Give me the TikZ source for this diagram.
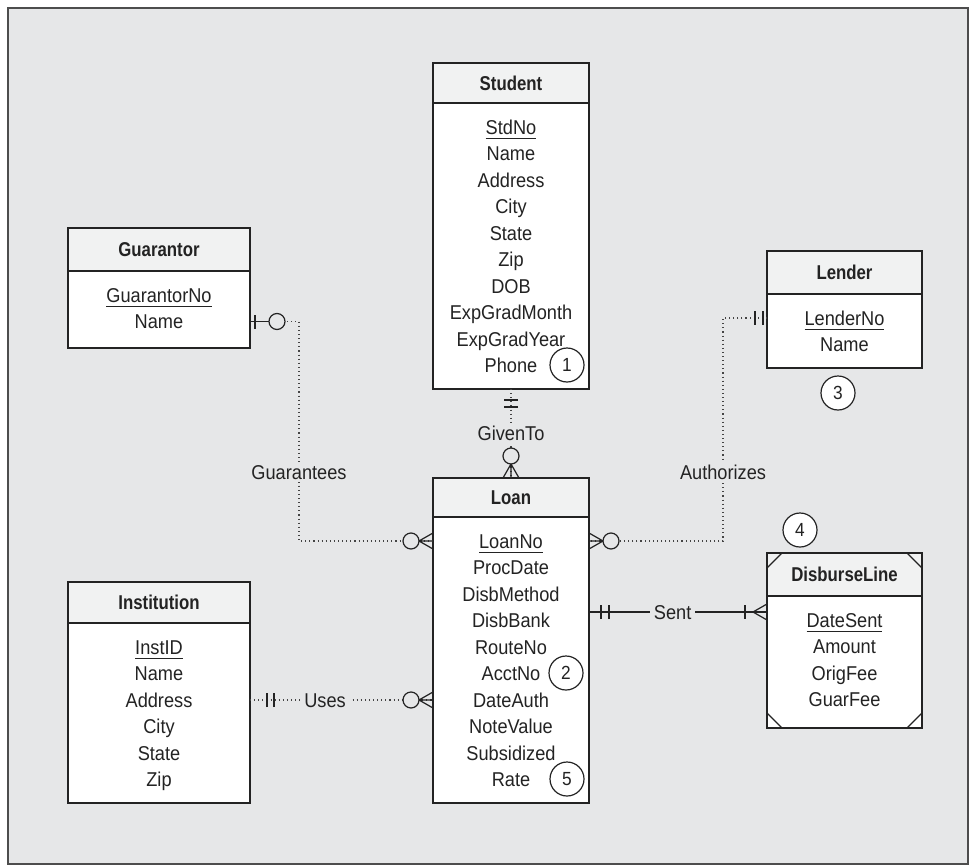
\documentclass[tikz,border=0pt]{standalone}
\usepackage{fontspec}
\setmainfont{Liberation Sans}[FakeStretch=0.91]
\newfontfamily\headfont{Liberation Sans Bold}[FakeStretch=0.84]
\usetikzlibrary{calc}

\definecolor{pagebg}{HTML}{E6E7E8}
\definecolor{headfill}{HTML}{F1F2F2}
\definecolor{ink}{HTML}{232323}
\definecolor{frameline}{HTML}{4D4D4D}
\definecolor{dotink}{HTML}{444444}

% primary key: text with a rule under it
\newcommand\pk[1]{\setbox0\hbox{#1}\rlap{\color{ink}\rule[-4.6pt]{\wd0}{1.1pt}}\box0}

\tikzset{
  x=1pt, y=-1pt,
  txt/.style={font=\fontsize{20}{24}\selectfont, text=ink, inner sep=0pt,
              text height=14.3pt, text depth=0pt},
  boxline/.style={draw=ink, line width=1.4pt, inner sep=0pt, outer sep=0pt},
  headbox/.style={boxline, fill=headfill},
  bodybox/.style={boxline, fill=white},
  enttitle/.style={txt, font=\headfont\fontsize{20}{24}\selectfont},
  attrtext/.style={txt},
  reldots/.style={draw=dotink, line width=1.1pt, dash pattern=on 1.1pt off 3pt},
  solidln/.style={draw=ink, line width=1.2pt},
  relname/.style={txt, fill=pagebg, inner xsep=4pt, inner ysep=3pt},
  numball/.style={circle, draw=ink, line width=1.2pt, fill=white, minimum size=34pt,
                  inner sep=0pt, font=\fontsize{19}{22}\selectfont, text=ink}
}

% entity: name, left, right, top, header bottom, bottom, title, attribute rows
\newcommand\erentity[8]{%
  \node[bodybox, anchor=north west, minimum width={#3-#2}, minimum height={#6-#5}] (#1) at (#2,#5) {};
  \node[headbox, anchor=north west, minimum width={#3-#2}, minimum height={#5-#4}] (#1-head) at (#2,#4) {};
  \node[enttitle] (#1-title) at (#1-head.center) {#7};
  \foreach \t [count=\i] in {#8}
    \node[attrtext] (#1-\i) at ({(#2+#3)/2},{#5+24+(\i-1)*26.5}) {\t};
}

% crow's foot at point #1, pointing away from the entity along (#2,#3)
\newcommand\crowfoot[3]{%
  \draw[solidln] ($(#1)+14*(#2,#3)$) -- ($(#1)+8*(#3,#2)$)
                 ($(#1)+14*(#2,#3)$) -- ($(#1)-8*(#3,#2)$)
                 ($(#1)+14*(#2,#3)$) -- (#1);
}
% zero-or-many: crow's foot plus ring
\newcommand\zeromany[3]{%
  \crowfoot{#1}{#2}{#3}%
  \draw[solidln, fill=pagebg] ($(#1)+22*(#2,#3)$) circle[radius=8];
}
% bar across the line at distance #4 from point #1
\newcommand\crossbar[4]{%
  \draw[solidln] ($(#1)+#4*(#2,#3)+7*(#3,#2)$) -- ($(#1)+#4*(#2,#3)-7*(#3,#2)$);
}

\begin{document}
\begin{tikzpicture}
\useasboundingbox (0,0) rectangle (977,867);
\fill[white] (0,0) rectangle (977,867);
\path[draw=frameline, fill=pagebg, line width=1.6pt] (8,8) rectangle (968,864);

% ---- entities ----
\erentity{stu}{433}{589}{63}{103}{389}{Student}%
  {\pk{StdNo},Name,Address,City,State,Zip,DOB,ExpGradMonth,ExpGradYear,Phone}
\erentity{guar}{68}{250}{228}{271}{348}{Guarantor}{\pk{GuarantorNo},Name}
\erentity{lend}{767}{922}{251}{294}{368}{Lender}{\pk{LenderNo},Name}
\erentity{loan}{433}{589}{478}{517}{803}{Loan}%
  {\pk{LoanNo},ProcDate,DisbMethod,DisbBank,RouteNo,AcctNo,DateAuth,NoteValue,Subsidized,Rate}
\erentity{dis}{767}{922}{553}{596}{728}{DisburseLine}{\pk{DateSent},Amount,OrigFee,GuarFee}
\erentity{inst}{68}{250}{582}{623}{803}{Institution}{\pk{InstID},Name,Address,City,State,Zip}

% corner marks of DisburseLine
\draw[solidln] ($(dis-head.north west)+(0,15)$) -- ($(dis-head.north west)+(15,0)$);
\draw[solidln] ($(dis-head.north east)+(-15,0)$) -- ($(dis-head.north east)+(0,15)$);
\draw[solidln] ($(dis.south west)+(0,-15)$) -- ($(dis.south west)+(15,0)$);
\draw[solidln] ($(dis.south east)+(-15,0)$) -- ($(dis.south east)+(0,-15)$);

% ---- connection points ----
\coordinate (gS) at (guar.east |- guar-2);
\coordinate (gE) at (loan.west |- loan-1);
\coordinate (aS) at (lend.west |- lend-1);
\coordinate (aE) at (loan.east |- loan-1);
\coordinate (tS) at (stu.south);
\coordinate (tE) at (loan-head.north);
\coordinate (sE) at ($(dis.north west)+(0,16)$);
\coordinate (sS) at (loan.east |- sE);
\coordinate (uE) at (loan.west |- loan-7);
\coordinate (uS) at (inst.east |- uE);

% Guarantees
\draw[reldots] (gS) -- ++(49,0) coordinate (gC) |- (gE);
\node[relname] (gLbl) at (gC |- 0,472) {Guarantees};
\draw[solidln] (gS) -- ++(19,0);
\crossbar{gS}{1}{0}{5}
\draw[solidln, fill=pagebg] ($(gS)+(27,0)$) circle[radius=8];
\zeromany{gE}{-1}{0}

% Authorizes
\draw[reldots] (aS) -- ++(-44,0) coordinate (aC) |- (aE);
\node[relname] (aLbl) at (aC |- 0,472) {Authorizes};
\crossbar{aS}{-1}{0}{4}
\crossbar{aS}{-1}{0}{12}
\zeromany{aE}{1}{0}

% GivenTo
\draw[reldots] (tS) -- (tE);
\node[relname] (tLbl) at ($(tS)+(0,44)$) {GivenTo};
\crossbar{tS}{0}{1}{11}
\crossbar{tS}{0}{1}{18}
\zeromany{tE}{0}{-1}

% Sent (identifying)
\draw[solidln] (sS) -- (sE);
\node[relname] (sLbl) at ($(sS)!0.47!(sE)$) {Sent};
\crossbar{sS}{1}{0}{12}
\crossbar{sS}{1}{0}{20}
\crowfoot{sE}{-1}{0}
\crossbar{sE}{-1}{0}{22}

% Uses
\draw[reldots] (uS) -- (uE);
\node[relname] (uLbl) at ($(uS)+(75,0)$) {Uses};
\crossbar{uS}{1}{0}{17}
\crossbar{uS}{1}{0}{24}
\zeromany{uE}{-1}{0}

% numbered call-outs
\node[numball] (n1) at (567,365) {1};
\node[numball] (n2) at (566,673) {2};
\node[numball] (n3) at (838,393) {3};
\node[numball] (n4) at (800,530) {4};
\node[numball] (n5) at (567,779) {5};
\end{tikzpicture}
\end{document}
